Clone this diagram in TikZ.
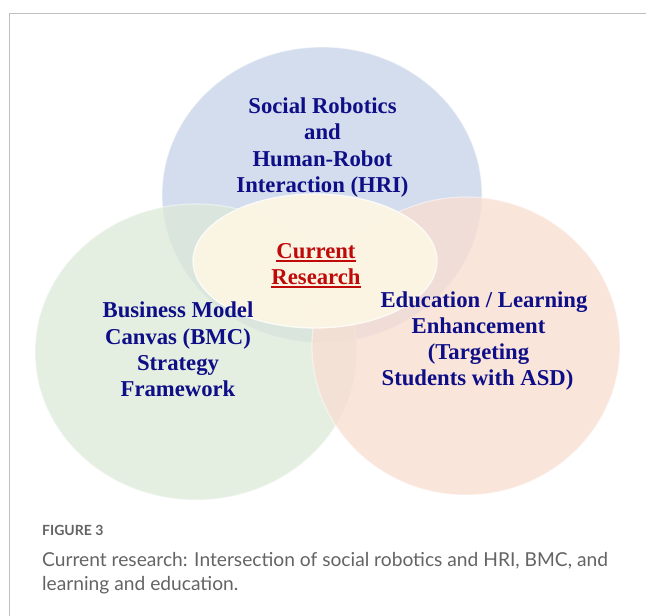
\documentclass[tikz,border=0pt]{standalone}
\usepackage{fontspec}
\setmainfont{Liberation Serif}
\newfontfamily\captionfont{Lato}
\definecolor{circBlue}{RGB}{212,221,238}
\definecolor{circGreen}{RGB}{221,234,216}
\definecolor{circOrange}{RGB}{249,222,210}
\definecolor{circCream}{RGB}{252,246,228}
\definecolor{labelNavy}{RGB}{14,14,135}
\definecolor{labelRed}{RGB}{192,10,10}
\definecolor{frameGrey}{RGB}{190,190,190}
\definecolor{captionGrey}{RGB}{100,100,100}
\begin{document}
\begin{tikzpicture}[x=1pt,y=-1pt,
  venn/.style={draw=white, line width=1.2pt, draw opacity=0.45},
  lbl/.style={font=\fontsize{22.7}{26}\selectfont\bfseries, text=labelNavy, inner sep=0pt, anchor=base},
  core/.style={lbl, text=labelRed},
  coreline/.style={draw=labelRed, line width=1.6pt},
  capt/.style={font=\captionfont\fontsize{19.2}{23}\selectfont, text=captionGrey, inner sep=0pt, anchor=base west},
  capthead/.style={font=\captionfont\bfseries\fontsize{14}{17}\selectfont, text=captionGrey, inner sep=0pt, anchor=base west},
  frame/.style={draw=frameGrey, line width=1.3pt}]
\useasboundingbox (0,0) rectangle (646,616);
\fill[white] (0,0) rectangle (646,616);

% outer frame
\draw[frame] (9.3,616) -- (9.3,13.5) -- (646,13.5);

% three overlapping fields
\filldraw[venn, fill=circBlue] (322,195) ellipse [x radius=160, y radius=148];
\filldraw[venn, fill=circGreen, fill opacity=0.75] (196,352) ellipse [x radius=161, y radius=148];
\filldraw[venn, fill=circOrange, fill opacity=0.78] (466,346) ellipse [x radius=154, y radius=149];
% common core
\filldraw[venn, draw opacity=0.8, fill=circCream, fill opacity=0.95] (315,261) ellipse [x radius=122, y radius=67];

% labels of the fields
\node[lbl] (sr1) at (322.5,113) {Social Robotics};
\node[lbl] (sr2) at (322.5,139.5) {and};
\node[lbl] (sr3) at (322.5,166) {Human-Robot};
\node[lbl] (sr4) at (322.5,192.5) {Interaction (HRI)};

\node[lbl] (bm1) at (178,317.5) {Business Model};
\node[lbl] (bm2) at (178,344) {Canvas (BMC)};
\node[lbl] (bm3) at (178,370) {Strategy};
\node[lbl] (bm4) at (178,396) {Framework};

\node[lbl] (ed1) at (484,307) {Education / Learning};
\node[lbl] (ed2) at (478.5,333) {Enhancement};
\node[lbl] (ed3) at (478.5,359.5) {(Targeting};
\node[lbl] (ed4) at (477.5,385.5) {Students with ASD)};

% core label with underlines
\node[core] (cr1) at (316,258) {Current};
\node[core] (cr2) at (316,284) {Research};
\draw[coreline] ([yshift=-3.2pt]cr1.base west) -- ([yshift=-3.2pt]cr1.base east);
\draw[coreline] ([yshift=-3.2pt]cr2.base west) -- ([yshift=-3.2pt]cr2.base east);

% caption
\node[capthead] (fig) at (42,535) {FIGURE 3};
\node[capt] (cap1) at (42,566) {Current research: Intersection of social robotics and HRI, BMC, and};
\node[capt] (cap2) at (42,590) {learning and education.};
\end{tikzpicture}
\end{document}
